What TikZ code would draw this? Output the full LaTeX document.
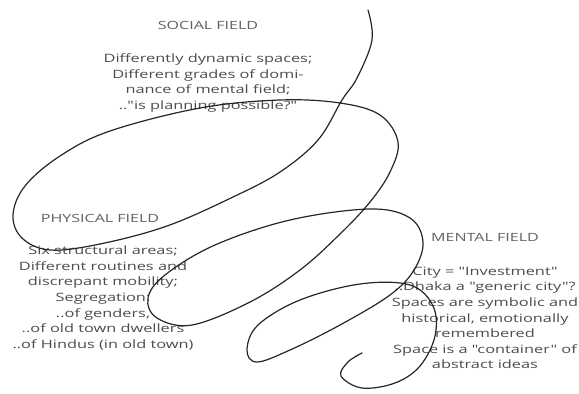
\documentclass[tikz,border=0pt]{standalone}
\usepackage{fontspec}
\setmainfont{Open Sans}
\newfontfamily\fieldfont{Open Sans}[FakeStretch=1.42]
\usepackage{tikz}

\begin{document}
\begin{tikzpicture}[x=1pt, y=-1pt,
  title/.style={text=black!62, font=\fieldfont\fontsize{11.3}{14}\selectfont, inner sep=0pt},
  body/.style={text=black!70, align=center, font=\fieldfont\fontsize{11.5}{15.6}\selectfont, inner sep=0pt},
  scribble/.style={black!85, line width=1.2pt, line cap=round}]
  \useasboundingbox (0,0) rectangle (579,394);
  % the three fields
  \node[title] (socialT) at (208,25) {SOCIAL FIELD};
  \node[body] (social) at (208,83) {Differently dynamic spaces;\\Different grades of domi-\\nance of mental field;\\.."is planning possible?"};
  \node[title] (physicalT) at (100,218) {PHYSICAL FIELD};
  \node[body] (physical) at (103,298) {Six structural areas;\\Different routines and\\discrepant mobility;\\Segregation:\\..of genders,\\..of old town dwellers\\..of Hindus (in old town)};
  \node[title] (mentalT) at (485,237) {MENTAL FIELD};
  \node[body] (mental) at (485,318) {City = "Investment"\\..Dhaka a "generic city"?\\Spaces are symbolic and\\historical, emotionally\\remembered\\Space is a "container" of\\abstract ideas};
  % the spiral line running through them
  \draw[scribble] plot[smooth, tension=0.6] coordinates {
    (368,10) (372,40) (357,78) (342,100) (318,140) (280,172) (233,197)
    (167,226) (100,244) (50,250) (22,238) (13,215) (25,186) (60,156)
    (110,131) (200,108) (280,100) (340,103) (380,115) (398,142) (390,172)
    (370,202) (340,234) (300,270) (250,302) (192,325) (157,318) (148,298)
    (165,275) (215,245) (290,220) (370,209) (410,218) (423,242) (414,270)
    (390,295) (340,325) (290,350) (257,362) (247,350) (258,325) (300,300)
    (360,284) (410,285) (433,306) (435,336) (420,366) (395,383) (362,388)
    (341,376) (348,362) (362,353)};
\end{tikzpicture}
\end{document}
